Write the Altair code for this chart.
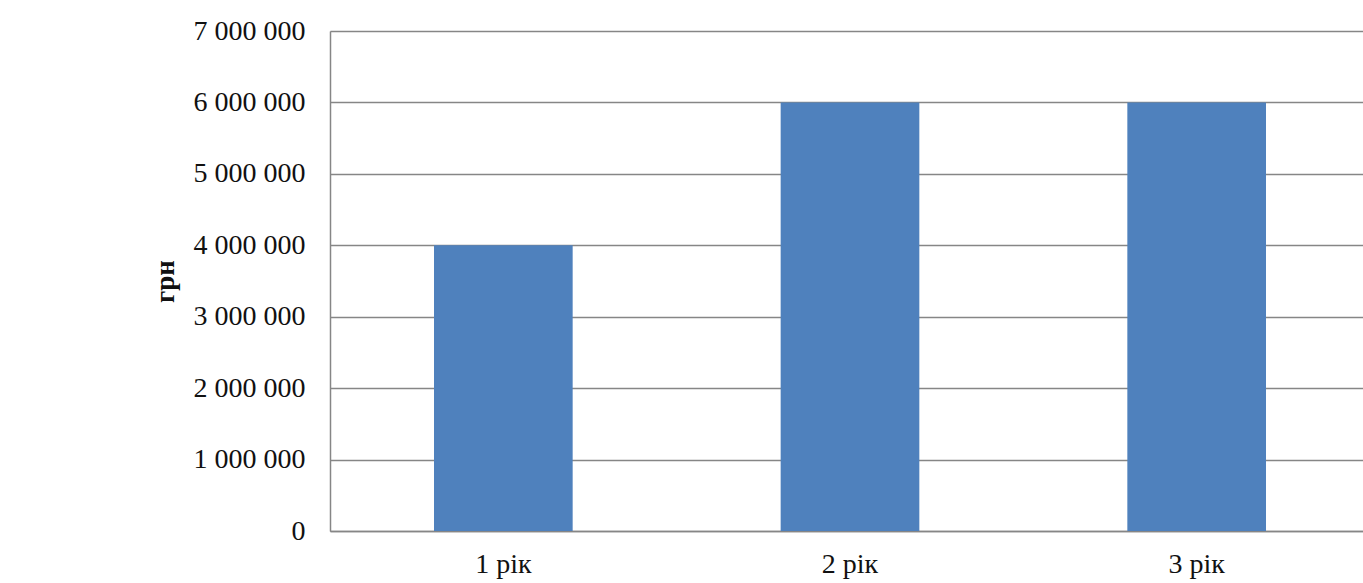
import altair as alt
import pandas as pd

categories = ["1 рік", "2 рік", "3 рік"]
values = [4000000, 6000000, 6000000]
y_ticks = [0, 1000000, 2000000, 3000000, 4000000, 5000000, 6000000, 7000000]

df = pd.DataFrame({"year": categories, "value": values})

FONT = "Liberation Serif"
GRID = "#868686"

chart = alt.Chart(df).mark_bar(color="#4F81BD").encode(
    x=alt.X(
        "year:N",
        sort=categories,
        title=None,
        scale=alt.Scale(paddingInner=0.6, paddingOuter=0.3, range=[0, 1040]),
        axis=alt.Axis(
            labelAngle=0,
            ticks=False,
            labelPadding=19,
            labelFont=FONT,
            labelFontSize=28,
            labelColor="#111111",
            domainColor=GRID,
            domainWidth=1.5,
            grid=False,
        ),
    ),
    y=alt.Y(
        "value:Q",
        title="грн",
        scale=alt.Scale(domain=[0, 7000000]),
        axis=alt.Axis(
            values=y_ticks,
            labelExpr="join(split(format(datum.value, ','), ','), ' ')",
            ticks=False,
            labelPadding=25,
            labelFont=FONT,
            labelFontSize=28,
            labelColor="#111111",
            titleFont=FONT,
            titleFontSize=27,
            titleFontWeight="bold",
            titleColor="#111111",
            titlePadding=14,
            domainColor=GRID,
            domainWidth=1.5,
            gridColor=GRID,
            gridWidth=1.5,
            gridOpacity=1,
        ),
    ),
).properties(
    width=1033,
    height=500,
    autosize=alt.AutoSizeParams(type="none"),
    padding={"left": 330, "top": 31, "right": 0, "bottom": 52},
).configure_view(stroke=None).configure(background="white")

chart.save("out.html", embed_options={"renderer": "svg", "actions": False})
